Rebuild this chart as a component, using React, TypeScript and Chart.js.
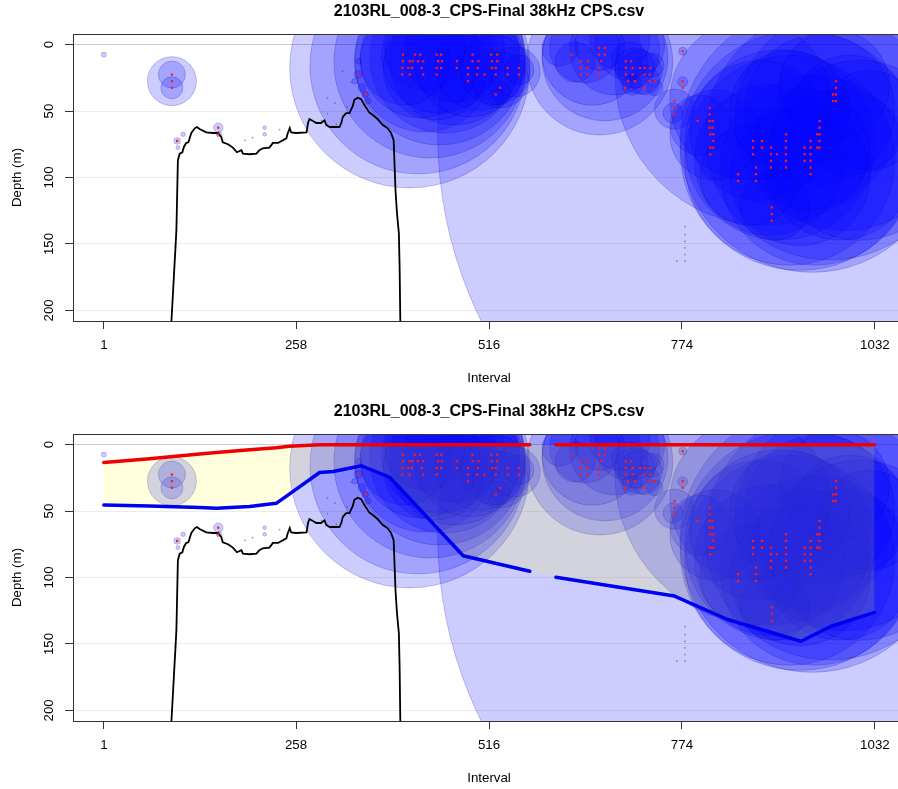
import React, { useEffect, useRef } from "react";
import { Chart, registerables } from "chart.js";

Chart.register(...registerables);

const FONT = "'Liberation Sans', Arial, Helvetica, sans-serif";
Chart.defaults.font.family = FONT;
Chart.defaults.color = "#000";

const TITLE = "2103RL_008-3_CPS-Final 38kHz CPS.csv";
const X_LABEL = "Interval";
const Y_LABEL = "Depth (m)";
const xTickValues = [1, 258, 516, 774, 1032];
const yTickValues = [0, 50, 100, 150, 200];
const xRange = [-40.24, 1072.24];
const yRange = [-8, 208];

// Bubble symbols: [interval, depth (m), symbol radius]
const westBubbles = [
  [1, 7.5, 2.5], [92, 27.5, 24.5], [92, 22.5, 13.5], [92, 32.5, 11],
  [99, 72.5, 3.3], [100, 77.5, 2], [107, 67.5, 2.2], [154, 62.5, 4.7],
  [155, 67.5, 2.7], [216, 62.5, 1.8], [216, 67.5, 1.8],
  [341, 22.5, 4], [346, 32.5, 4], [351, 37.5, 3], [342, 12.5, 3], [354, 42.5, 3], [337, 27.5, 3],
];
const cluster1Bubbles = [
  [410, 17.5, 120], [421, 16, 108], [437, 13, 96], [450, 11.5, 85], [457, 10, 75],
  [430, 13, 70], [470, 11.5, 65], [424, 10, 60], [450, 8, 58], [490, 13, 55],
  [444, 17.5, 52], [470, 5.5, 50], [404, 11.5, 45], [504, 15.5, 45], [430, 4, 40],
  [524, 19, 35], [531, 26.5, 28], [551, 20.5, 25], [556, 19, 15], [531, 35.5, 10], [525, 39.5, 8],
];
const cluster2Bubbles = [
  [664, 13, 73], [671, 10, 63], [654, 8, 50], [684, 4, 45], [644, 2.5, 35], [704, 0.5, 35],
  [664, 0.5, 25], [718, 20.5, 22], [711, 17.5, 20], [724, 26.5, 15], [704, 11.5, 18],
  [734, 15.5, 12], [631, 13, 20], [611, 2.5, 18], [738, 32.5, 8], [707, 30.5, 10], [691, -3.5, 30],
];
const bubbles774 = [
  [885, 23, 150], [775, 5, 4], [775, 28, 5], [764, 48.5, 20], [762, 51.5, 10],
];
const cluster3Bubbles = [
  [948, 72, 132], [932, 79.5, 120], [972, 68, 125], [918, 87, 105], [952, 94.5, 95],
  [905, 75.5, 95], [992, 57, 110], [998.5, 53, 60], [958, 49, 75], [932, 98.5, 70],
  [891, 87, 75], [985, 90.5, 75], [878, 64.5, 70], [1025, 57, 50], [978, 30.5, 55],
  [945, 79.5, 60], [898, 121, 35], [865, 98.5, 50], [818, 68, 45], [798, 60.5, 30],
  [918, 49.5, 60], [1012, 79.5, 90], [865, 41.5, 80],
];
const hugeBubbles = [[1009, 68, 420]];

// faint cells: [interval, depth]
const faintCells = [
  [778, 137], [778, 143], [778, 148], [778, 153], [778, 158], [778, 163], [767, 163],
  [320, 20], [332, 28], [300, 52], [312, 60], [292, 57], [250, 62], [236, 64],
  [200, 70], [190, 72], [300, 40], [310, 44], [326, 47], [283, 58],
];

// red cells: [interval, depth]
const redCellsWest = [
  [92, 22.5], [92, 27.5], [92, 32.5], [99, 72.5], [154, 62.5], [154, 67.5], [342, 22.5], [352, 37.5],
];
const redCellsCluster1 = [
  [401, 7.5], [417, 7.5], [424, 7.5], [446, 7.5], [452, 7.5], [494, 7.5], [519, 7.5], [527, 7.5],
  [401, 12.5], [410, 12.5], [414, 12.5], [421, 12.5], [428, 12.5], [448, 12.5], [453, 12.5], [473, 12.5],
  [494, 12.5], [502, 12.5], [520, 12.5], [527, 12.5],
  [400, 17.5], [408, 17.5], [413, 17.5], [426, 17.5], [446, 17.5], [452, 17.5], [473, 17.5], [488, 17.5],
  [501, 17.5], [520, 17.5], [525, 17.5], [541, 17.5], [556, 17.5],
  [400, 22.5], [410, 22.5], [428, 22.5], [446, 22.5], [488, 22.5], [500, 22.5], [510, 22.5], [525, 22.5],
  [541, 22.5], [556, 22.5], [488, 27.5], [531, 32.5], [525, 37.5],
];
const redCellsCluster2 = [
  [626, 7.5], [639, 12.5], [648, 12.5], [639, 17.5], [648, 17.5], [639, 22.5], [648, 22.5], [663, 2.5],
  [671, 2.5], [663, 7.5], [671, 7.5], [666, 12.5], [663, 17.5], [663, 22.5],
  [699, 12.5], [706, 12.5], [699, 17.5], [708, 17.5], [718, 17.5], [724, 17.5], [732, 17.5],
  [699, 22.5], [708, 22.5], [724, 22.5], [731, 22.5], [702, 27.5], [711, 27.5], [731, 27.5],
  [738, 27.5], [698, 32.5], [724, 32.5],
];
const redCells774 = [[775, 5], [775, 27.5], [775, 32.5], [764, 42.5], [764, 47.5], [764, 52.5]];
const redCellsCluster3 = [
  [811, 47.5], [811, 52.5], [811, 57.5], [815, 57.5], [811, 62.5], [815, 62.5], [812, 67.5], [816, 67.5],
  [816, 72.5], [812, 77.5], [816, 77.5], [812, 82.5], [795, 57.5], [849, 97.5], [849, 102.5],
  [869, 72.5], [869, 77.5], [869, 82.5], [873, 92.5], [873, 97.5], [873, 102.5], [881, 72.5], [881, 77.5],
  [893, 77.5], [893, 82.5], [893, 87.5], [893, 92.5], [901, 82.5], [894, 122.5], [894, 127.5], [894, 132.5],
  [913, 67.5], [913, 72.5], [913, 77.5], [913, 82.5], [913, 87.5], [913, 92.5],
  [938, 77.5], [938, 82.5], [938, 87.5], [946, 72.5], [946, 77.5], [946, 82.5], [946, 87.5], [946, 92.5],
  [946, 97.5], [955, 67.5], [955, 77.5], [958, 57.5], [958, 62.5], [958, 67.5], [958, 72.5], [958, 77.5],
  [980, 27.5], [980, 32.5], [976, 37.5], [980, 37.5], [976, 42.5], [980, 42.5],
];

// seabed line
const bottomInterval = [
  91, 98, 100, 102.5, 106, 108, 111, 114, 118, 122.5, 125.5, 129, 138, 147, 153.5, 158, 160, 167, 173.5, 179,
  185, 187, 196, 205, 209, 213.5, 222.5, 227, 234, 245, 247, 249.5, 251.5, 258, 272, 274, 276, 280.5, 285, 291.5,
  296, 298.5, 303, 316, 318.5, 320.5, 325, 329.5, 334, 336, 340.5, 345, 349.5, 356, 360.5, 367, 374, 380.5, 385, 388.5,
  389.5, 391, 393, 395.5, 396.5, 397.5,
];
const bottomDepth = [
  212, 140, 87, 82, 81, 77, 74, 73.5, 66.5, 63, 62, 63.5, 66, 66.5, 66.5, 69.5, 73.5, 75, 77.5, 81,
  79.5, 82, 82.5, 82, 79.5, 78, 77.5, 74, 74, 70.5, 66.5, 63, 66, 66.5, 66, 59, 56, 57.5, 59, 59,
  57, 60.5, 62, 62, 59, 54.5, 51.5, 51.5, 46, 41.5, 40, 41, 45.5, 51, 53, 56, 60.5, 63, 66.5, 72,
  87, 110, 127, 142, 168, 212,
];

// layer boundaries (lower panel)
const layerInterval = [1, 62, 129, 151.5, 196, 231.5, 249, 289.5, 307.5, 345.5, 383.5, 481.5, 570.5, 605.5, 764, 835, 933, 973.5, 1031.5];
const upperDepth = [13.5, 10.6, 7.0, 6.0, 3.8, 2.3, 1.3, 0, 0, 0, 0, 0, 0, 0, 0, 0, 0, 0, 0];
const lowerDepth = [45.5, 46.2, 47.3, 47.8, 46.5, 44.2, 37.2, 21, 20.2, 15.9, 24.7, 83.6, 95.3, 99.8, 114, 131.6, 148, 136.7, 126.3];
const layerGapInterval = 588;

const toBubble = (a: number[][]) => a.map(([x, y, r]) => ({ x, y, r }));
const toXY = (a: number[][]) => a.map(([x, y]) => ({ x, y }));

function withGap(ys: number[]) {
  const pts: { x: number; y: number | null }[] = layerInterval.map((x, i) => ({ x, y: ys[i] }));
  pts.push({ x: layerGapInterval, y: null });
  pts.sort((a, b) => a.x - b.x);
  return pts;
}

const boxPlugin = {
  id: "plotBox",
  afterDraw(chart: any) {
    const { ctx, chartArea } = chart;
    const l = Math.round(chartArea.left) + 0.5;
    const t = Math.round(chartArea.top) + 0.5;
    const r = Math.round(chartArea.right) + 0.5;
    const b = Math.round(chartArea.bottom) + 0.5;
    ctx.save();
    ctx.strokeStyle = "#333";
    ctx.lineWidth = 1;
    ctx.strokeRect(l, t, r - l, b - t);
    ctx.restore();
  },
};

function buildConfig(showLayer: boolean): any {
  const allBubbles = [
    ...hugeBubbles, ...bubbles774, ...cluster3Bubbles, ...cluster2Bubbles, ...cluster1Bubbles, ...westBubbles,
  ];
  const redCells = [...redCellsWest, ...redCellsCluster1, ...redCellsCluster2, ...redCells774, ...redCellsCluster3];
  const datasets: any[] = [
    {
      type: "bubble",
      data: toBubble(allBubbles),
      backgroundColor: "rgba(0,0,255,0.2)",
      borderColor: "rgba(0,0,140,0.22)",
      borderWidth: 1,
      clip: 0,
      order: 6,
    },
    {
      type: "scatter",
      data: toXY(faintCells),
      pointRadius: 0.9,
      backgroundColor: "rgba(60,60,110,0.5)",
      borderWidth: 0,
      clip: 0,
      order: 5,
    },
  ];
  if (showLayer) {
    datasets.push(
      {
        type: "line",
        data: layerInterval.map((x, i) => ({ x, y: upperDepth[i] })),
        borderColor: "rgba(0,0,0,0)",
        borderWidth: 0,
        pointRadius: 0,
        fill: "+1",
        backgroundColor: "rgba(255,255,0,0.13)",
        clip: 0,
        order: 4,
      },
      {
        type: "line",
        data: layerInterval.map((x, i) => ({ x, y: lowerDepth[i] })),
        borderColor: "rgba(0,0,0,0)",
        borderWidth: 0,
        pointRadius: 0,
        fill: false,
        clip: 0,
        order: 4,
      }
    );
  }
  datasets.push({
    type: "line",
    data: bottomInterval.map((x, i) => ({ x, y: bottomDepth[i] })),
    borderColor: "#000",
    borderWidth: 1.8,
    pointRadius: 0,
    fill: false,
    clip: 0,
    order: 3,
  });
  datasets.push({
    type: "scatter",
    data: toXY(redCells),
    pointStyle: "rect",
    pointRadius: 1.6,
    backgroundColor: "#ff1a1a",
    borderColor: "#ff1a1a",
    borderWidth: 0,
    clip: 0,
    order: 2,
  });
  if (showLayer) {
    datasets.push(
      {
        type: "line",
        data: withGap(upperDepth),
        borderColor: "#f00000",
        borderWidth: 3.5,
        borderCapStyle: "round",
        borderJoinStyle: "round",
        pointRadius: 0,
        fill: false,
        clip: 0,
        order: 1,
      },
      {
        type: "line",
        data: withGap(lowerDepth),
        borderColor: "#0000f0",
        borderWidth: 3.5,
        borderCapStyle: "round",
        borderJoinStyle: "round",
        pointRadius: 0,
        fill: false,
        clip: 0,
        order: 1,
      }
    );
  }

  return {
    type: "bubble",
    data: { datasets },
    plugins: [boxPlugin],
    options: {
      responsive: false,
      maintainAspectRatio: false,
      animation: false,
      events: [],
      devicePixelRatio: 1,
      layout: { autoPadding: false, padding: { left: 0, right: 7, top: 0, bottom: 0 } },
      plugins: {
        legend: { display: false },
        tooltip: { enabled: false },
        title: {
          display: true,
          text: TITLE,
          color: "#000",
          fullSize: false,
          font: { size: 16, weight: "bold", family: FONT },
          padding: { top: 1.9, bottom: 12.9 },
        },
      },
      scales: {
        x: {
          type: "linear",
          position: "bottom",
          bounds: "data",
          min: xRange[0],
          max: xRange[1],
          z: 1,
          afterBuildTicks: (s: any) => {
            s.ticks = xTickValues.map((value) => ({ value }));
          },
          afterFit: (s: any) => {
            s.height = 79;
          },
          grid: { drawOnChartArea: false, drawTicks: true, tickLength: 8, tickColor: "#333", tickWidth: 1 },
          border: { display: false },
          ticks: {
            autoSkip: false,
            minRotation: 0,
            maxRotation: 0,
            padding: 8.5,
            color: "#000",
            font: { size: 13.3 },
            callback: (v: any) => String(v),
          },
          title: {
            display: true,
            text: X_LABEL,
            color: "#000",
            font: { size: 13.3 },
            padding: { top: 0, bottom: 14 },
          },
        },
        y: {
          type: "linear",
          position: "left",
          reverse: true,
          bounds: "data",
          min: yRange[0],
          max: yRange[1],
          z: 1,
          afterBuildTicks: (s: any) => {
            s.ticks = yTickValues.map((value) => ({ value }));
          },
          afterFit: (s: any) => {
            s.width = 73;
          },
          grid: {
            drawOnChartArea: true,
            drawTicks: true,
            tickLength: 8,
            tickColor: "#333",
            lineWidth: 1,
            color: (c: any) =>
              c.tick && c.tick.value === 0 ? "rgba(195,195,195,0.85)" : "rgba(200,200,200,0.35)",
          },
          border: { display: false },
          ticks: {
            autoSkip: false,
            minRotation: 90,
            maxRotation: 90,
            crossAlign: "center",
            padding: 4.7,
            color: "#000",
            font: { size: 13.3 },
            callback: (v: any) => String(v),
          },
          title: {
            display: true,
            text: Y_LABEL,
            color: "#000",
            font: { size: 13.3 },
            padding: { top: 9.5, bottom: 0 },
          },
        },
      },
    },
  };
}

function EchoChart({ showLayer }: { showLayer: boolean }) {
  const ref = useRef<HTMLCanvasElement | null>(null);
  useEffect(() => {
    if (!ref.current) return;
    const chart = new Chart(ref.current, buildConfig(showLayer));
    return () => chart.destroy();
  }, [showLayer]);
  return (
    <canvas
      ref={ref}
      width={912}
      height={400}
      style={{ display: "block", width: 912, height: 400 }}
    />
  );
}

export default function App() {
  return (
    <div
      style={{
        position: "fixed",
        left: 0,
        top: 0,
        width: 898,
        height: 789,
        overflow: "hidden",
        background: "#fff",
      }}
    >
      <EchoChart showLayer={false} />
      <EchoChart showLayer={true} />
    </div>
  );
}
